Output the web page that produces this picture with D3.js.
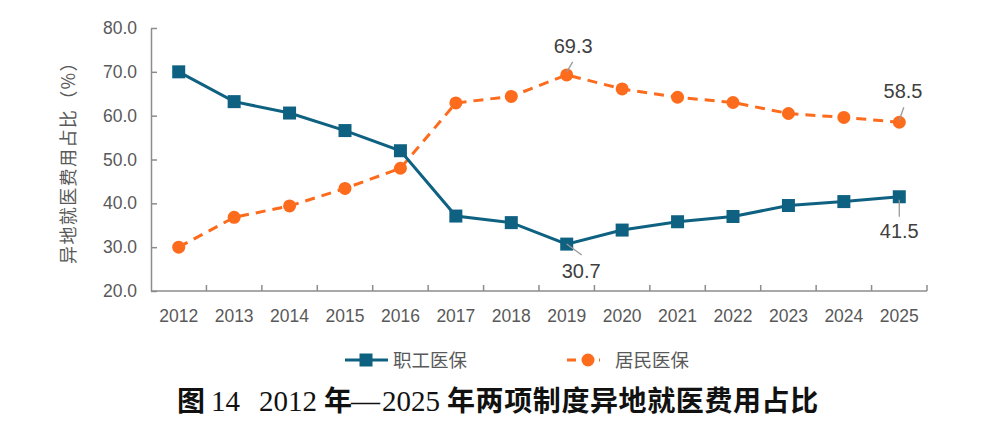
<!DOCTYPE html>
<html><head><meta charset="utf-8">
<script src="https://cdn.jsdelivr.net/npm/d3@7"></script>
<style>body{margin:0;background:#fff;}svg{display:block;}</style>
</head><body>
<svg id="c" width="1000" height="437"></svg>
<script>
const years = ["2012","2013","2014","2015","2016","2017","2018","2019","2020","2021","2022","2023","2024","2025"];
const zhigong = [70.0,63.2,60.6,56.6,52.0,37.1,35.6,30.7,33.9,35.8,37.0,39.5,40.4,41.5];
const jumin = [30.0,36.8,39.4,43.4,48.0,62.9,64.4,69.3,66.1,64.2,63.0,60.5,59.6,58.5];
const yTicks = [20,30,40,50,60,70,80];
const seriesNames = ["职工医保","居民医保"];
const yTitle = "异地就医费用占比（%）";
const titleParts = [
  {t:"图", cjk:true, x:177},
  {t:"14", cjk:false, x:211},
  {t:"2012", cjk:false, x:259},
  {t:"年", cjk:true, x:324},
  {t:"—", cjk:false, x:351},
  {t:"2025", cjk:false, x:382},
  {t:"年两项制度异地就医费用占比", cjk:true, x:447}
];

(function(){
const blue = "#0f6182", orange = "#fd6b1c", grey = "#595959";
const svg = d3.select("#c");
const L = 151, R = 927, T = 28, B = 291;
const x = d3.scaleBand().domain(years).range([L, R]);
const y = d3.scaleLinear().domain([20,80]).range([B, T]);
const cx = d => x(d) + x.bandwidth()/2;
const font = "'Liberation Sans', Arial, sans-serif";
const cjk = "'Noto Sans CJK SC', sans-serif";

const gx = svg.append("g").attr("transform", `translate(0,${B})`);
gx.append("line").attr("x1", L).attr("x2", R).attr("stroke", "#8c8c8c").attr("stroke-width", 1.5);
const bounds = years.map(d => x(d)).concat([R]);
gx.selectAll("line.t").data(bounds.slice(1)).join("line").attr("class","t")
  .attr("x1", d=>d).attr("x2", d=>d).attr("y1", 0).attr("y2", -6).attr("stroke","#8c8c8c").attr("stroke-width",1.5);
gx.selectAll("text").data(years).join("text")
  .attr("x", d => cx(d)).attr("y", 30.5).attr("text-anchor","middle")
  .attr("font-family", font).attr("font-size", 17.5).attr("fill", grey).text(d => d);

const gy = svg.append("g").attr("transform", `translate(${L},0)`);
gy.call(d3.axisLeft(y).tickValues(yTicks).tickSize(-6).tickSizeOuter(0).tickFormat(d3.format(".1f")));
gy.select(".domain").attr("stroke","#8c8c8c").attr("stroke-width",1.5);
gy.selectAll(".tick line").attr("stroke","#8c8c8c").attr("stroke-width",1.5);
gy.selectAll(".tick text").attr("x",-14).attr("font-family", font).attr("font-size", 17.5).attr("fill",grey);

svg.append("text").attr("transform", `translate(75,158) rotate(-90)`)
  .attr("text-anchor","middle").attr("font-family",cjk).attr("letter-spacing",1.4)
  .attr("font-size",18).attr("fill",grey).text(yTitle);

const line = d3.line().x((d,i)=>cx(years[i])).y(d=>y(d));
svg.append("path").datum(jumin).attr("d", line).attr("fill","none").attr("stroke",orange)
  .attr("stroke-width",3).attr("stroke-dasharray","10,7");
svg.append("path").datum(zhigong).attr("d", line).attr("fill","none").attr("stroke",blue)
  .attr("stroke-width",3);
svg.selectAll("rect.m").data(zhigong).join("rect").attr("class","m")
  .attr("x",(d,i)=>cx(years[i])-6.5).attr("y",d=>y(d)-6.5).attr("width",13).attr("height",13).attr("fill",blue);
svg.selectAll("circle.m").data(jumin).join("circle").attr("class","m")
  .attr("cx",(d,i)=>cx(years[i])).attr("cy",d=>y(d)).attr("r",6.5).attr("fill",orange);

function lab(i, vals, dx1, dy1, dx2, dy2, tx, ty) {
  const px = cx(years[i]), py = y(vals[i]);
  svg.append("line").attr("x1",px+dx1).attr("y1",py+dy1).attr("x2",px+dx2).attr("y2",py+dy2)
    .attr("stroke","#9a9a9a").attr("stroke-width",1.3);
  svg.append("text").attr("x",px+tx).attr("y",py+ty).attr("text-anchor","middle")
    .attr("font-family",font).attr("font-size",20).attr("fill","#404040").text(vals[i].toFixed(1));
}
lab(7, jumin, 0, -3, 6, -13, 6.5, -21.5);
lab(7, zhigong, 0, 0, 15, 11, 14.5, 34);
lab(13, jumin, 0, -2, 4.5, -15, 3.7, -24);
lab(13, zhigong, 0, 3, 0, 20, 0, 41.5);

const lg = svg.append("g");
lg.append("line").attr("x1",345).attr("x2",388).attr("y1",360).attr("y2",360).attr("stroke",blue).attr("stroke-width",3);
lg.append("rect").attr("x",359.5).attr("y",353.5).attr("width",13).attr("height",13).attr("fill",blue);
lg.append("text").attr("x",393).attr("y",366.5).attr("font-family",cjk).attr("font-size",18.5).attr("fill",grey).text(seriesNames[0]);
lg.append("line").attr("x1",567).attr("x2",600).attr("y1",360).attr("y2",360).attr("stroke",orange).attr("stroke-width",3).attr("stroke-dasharray","9,7");
lg.append("circle").attr("cx",588).attr("cy",360).attr("r",6.5).attr("fill",orange);
lg.append("text").attr("x",615).attr("y",366.5).attr("font-family",cjk).attr("font-size",18.5).attr("fill",grey).text(seriesNames[1]);

const tt = svg.append("text").attr("y",411).attr("fill","#111");
titleParts.forEach((p, k) => {
  tt.append("tspan").attr("x", p.x)
    .attr("font-family", p.cjk ? cjk : "'Liberation Serif', 'Times New Roman', serif")
    .attr("font-weight", p.cjk ? "bold" : "normal")
    .attr("letter-spacing", k === titleParts.length - 1 ? 0.6 : 0)
    .attr("font-size", p.cjk ? 28 : 29).text(p.t);
});
})();
</script>
</body></html>
